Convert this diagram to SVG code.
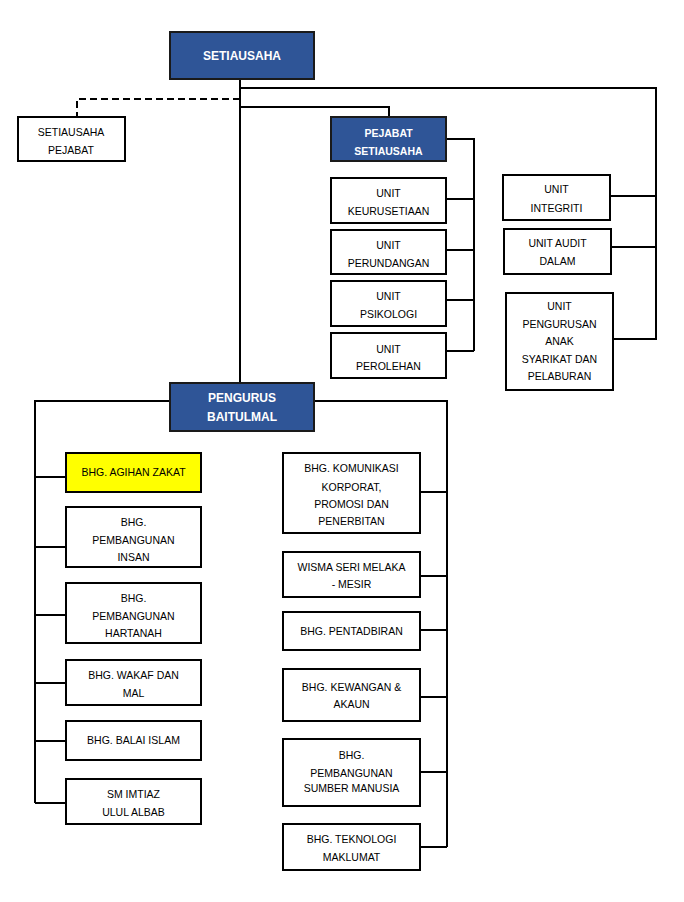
<svg xmlns="http://www.w3.org/2000/svg" width="684" height="902" viewBox="0 0 684 902">
<style>
.box{fill:#fff;stroke:#000;stroke-width:2}
.blue{fill:#2F5597;stroke:#1a1a1a;stroke-width:2}
.yellow{fill:#FFFF00;stroke:#000;stroke-width:2}
text{font-family:"Liberation Sans",Arial,sans-serif;font-size:10.5px;fill:#000;text-anchor:middle}
.tb{font-weight:bold;fill:#fff}
.ln{fill:none;stroke:#000;stroke-width:2}
.dash{fill:none;stroke:#000;stroke-width:2;stroke-dasharray:7 4}
</style>
<rect width="684" height="902" fill="#fff"/>
<g id="connectors">
<path class="ln" d="M240 79 V383"/>
<path class="ln" d="M240 88 H656 V340"/>
<path class="dash" d="M240 99 H77 V117"/>
<path class="ln" d="M240 107 H389 V117"/>
<path class="ln" d="M446 139 H474 V351"/>
<path class="ln" d="M446 199 H474 M446 250 H474 M446 300 H474 M446 351 H474"/>
<path class="ln" d="M610 196 H656 M611 247 H656 M613 339 H656"/>
<path class="ln" d="M170 401 H35 V803"/>
<path class="ln" d="M35 477 H66 M35 547 H66 M35 615 H66 M35 683 H66 M35 741 H66 M35 803 H66"/>
<path class="ln" d="M314 401 H447 V847"/>
<path class="ln" d="M420 492 H448 M420 576 H447 M420 630 H447 M420 697 H448 M420 772 H448 M421 847 H447"/>
</g>
<g id="setiausaha"><rect class="blue" x="170" y="32" width="144" height="47"/><text class="tb" x="242" y="60" style="font-size:12px">SETIAUSAHA</text></g>
<g id="setiausaha-pejabat"><rect class="box" x="18" y="117" width="107" height="44"/><text x="71" y="136">SETIAUSAHA</text><text x="71" y="154">PEJABAT</text></g>
<g id="pejabat-setiausaha"><rect class="blue" x="331" y="117" width="115" height="44"/><text class="tb" x="388.5" y="136.5">PEJABAT</text><text class="tb" x="388.5" y="154.5">SETIAUSAHA</text></g>
<g id="unit-keurusetiaan"><rect class="box" x="331" y="178" width="115" height="45"/><text x="388.5" y="197">UNIT</text><text x="388.5" y="215">KEURUSETIAAN</text></g>
<g id="unit-perundangan"><rect class="box" x="331" y="230" width="115" height="44"/><text x="388.5" y="249">UNIT</text><text x="388.5" y="267">PERUNDANGAN</text></g>
<g id="unit-psikologi"><rect class="box" x="331" y="281" width="115" height="45"/><text x="388.5" y="300">UNIT</text><text x="388.5" y="317.5">PSIKOLOGI</text></g>
<g id="unit-perolehan"><rect class="box" x="331" y="333" width="115" height="45"/><text x="388.5" y="352.5">UNIT</text><text x="388.5" y="370">PEROLEHAN</text></g>
<g id="unit-integriti"><rect class="box" x="503" y="175" width="107" height="45"/><text x="556.5" y="193">UNIT</text><text x="556.5" y="211.5">INTEGRITI</text></g>
<g id="unit-audit"><rect class="box" x="504" y="229" width="107" height="45"/><text x="557.5" y="247">UNIT  AUDIT</text><text x="557.5" y="265">DALAM</text></g>
<g id="unit-pengurusan"><rect class="box" x="506" y="293" width="107" height="97"/><text x="559.5" y="310">UNIT</text><text x="559.5" y="328">PENGURUSAN</text><text x="559.5" y="345">ANAK</text><text x="559.5" y="363">SYARIKAT DAN</text><text x="559.5" y="380">PELABURAN</text></g>
<g id="pengurus-baitulmal"><rect class="blue" x="170" y="383" width="144" height="48"/><text class="tb" x="242" y="402" style="font-size:12px">PENGURUS</text><text class="tb" x="242" y="421" style="font-size:12px">BAITULMAL</text></g>
<g id="bhg-agihan"><rect class="yellow" x="66" y="453" width="135" height="39"/><text x="133.5" y="476">BHG. AGIHAN ZAKAT</text></g>
<g id="bhg-insan"><rect class="box" x="66" y="507" width="135" height="60"/><text x="133.5" y="526">BHG.</text><text x="133.5" y="544">PEMBANGUNAN</text><text x="133.5" y="561">INSAN</text></g>
<g id="bhg-hartanah"><rect class="box" x="66" y="583" width="135" height="60"/><text x="133.5" y="602">BHG.</text><text x="133.5" y="620">PEMBANGUNAN</text><text x="133.5" y="637">HARTANAH</text></g>
<g id="bhg-wakaf"><rect class="box" x="66" y="660" width="135" height="45"/><text x="133.5" y="679">BHG. WAKAF DAN</text><text x="133.5" y="697">MAL</text></g>
<g id="bhg-balai"><rect class="box" x="66" y="721" width="135" height="39"/><text x="133.5" y="744">BHG. BALAI ISLAM</text></g>
<g id="sm-imtiaz"><rect class="box" x="66" y="779" width="135" height="45"/><text x="133.5" y="798">SM IMTIAZ</text><text x="133.5" y="816">ULUL ALBAB</text></g>
<g id="bhg-komunikasi"><rect class="box" x="283" y="453" width="137" height="80"/><text x="351.5" y="472">BHG. KOMUNIKASI</text><text x="351.5" y="490.5">KORPORAT,</text><text x="351.5" y="508">PROMOSI DAN</text><text x="351.5" y="525">PENERBITAN</text></g>
<g id="wisma"><rect class="box" x="283" y="552" width="137" height="45"/><text x="351.5" y="571">WISMA SERI  MELAKA</text><text x="351.5" y="588">- MESIR</text></g>
<g id="bhg-pentadbiran"><rect class="box" x="283" y="612" width="137" height="38"/><text x="351.5" y="635">BHG.  PENTADBIRAN</text></g>
<g id="bhg-kewangan"><rect class="box" x="283" y="669" width="137" height="52"/><text x="351.5" y="691">BHG. KEWANGAN &amp;</text><text x="351.5" y="708">AKAUN</text></g>
<g id="bhg-sumber"><rect class="box" x="283" y="739" width="137" height="67"/><text x="351.5" y="759">BHG.</text><text x="351.5" y="777">PEMBANGUNAN</text><text x="351.5" y="792">SUMBER  MANUSIA</text></g>
<g id="bhg-teknologi"><rect class="box" x="283" y="824" width="137" height="46"/><text x="351.5" y="843">BHG. TEKNOLOGI</text><text x="351.5" y="861">MAKLUMAT</text></g>
</svg>
